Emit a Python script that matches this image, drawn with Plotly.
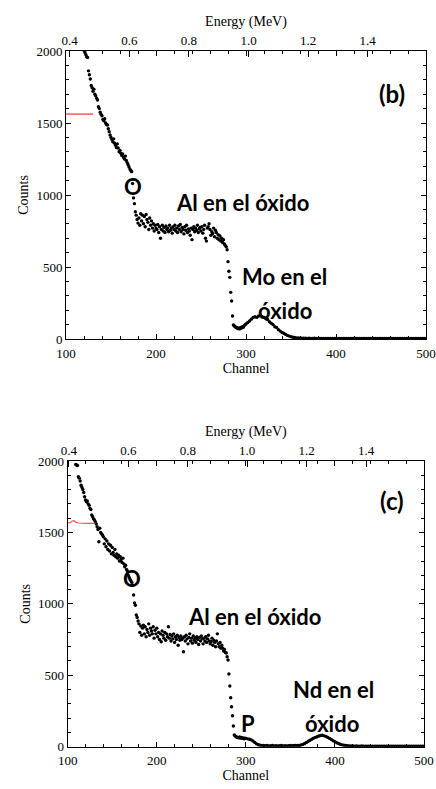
import plotly.graph_objects as go

# ---------------- data: panel (b) ----------------
ch_b = list(range(120, 300)) + list(range(300, 501, 2))
counts_b = [
    2005, 1990, 1975, 1960, 1955, 1862, 1835, 1806, 1760, 1745,          # 120-129
    1720, 1735, 1700, 1690, 1672, 1660, 1613, 1600, 1575, 1560,          # 130-139
    1550, 1525, 1515, 1530, 1500, 1490, 1486, 1460, 1440, 1417,          # 140-149
    1400, 1385, 1370, 1390, 1360, 1345, 1330, 1355, 1326, 1300,          # 150-159
    1310, 1290, 1275, 1285, 1260, 1250, 1270, 1240, 1225, 1210,          # 160-169
    1195, 1180, 1170, 1162, 1080, 980, 940, 884, 860, 830,               # 170-179
    805, 840, 790, 870, 820, 860, 800, 850, 780, 865,                    # 180-189
    830, 810, 760, 840, 790, 820, 770, 800, 750, 790,                    # 190-199
    770, 760, 795, 740, 780, 700, 760, 790, 750, 775,                    # 200-209
    740, 785, 760, 770, 745, 790, 755, 770, 735, 780,                    # 210-219
    760, 790, 750, 770, 740, 785, 760, 795, 745, 775,                    # 220-229
    760, 730, 780, 755, 790, 740, 765, 750, 720, 770,                    # 230-239
    690, 760, 780, 745, 770, 755, 790, 740, 765, 775,                    # 240-249
    750, 780, 735, 760, 790, 700, 680, 770, 780, 800,                    # 250-259
    760, 720, 745, 733, 770, 710, 755, 740, 700, 725,                    # 260-269
    690, 715, 680, 700, 670, 690, 660, 650, 641, 620,                    # 270-279
    537, 470, 428, 324, 264, 160, 97, 90, 85, 80,                        # 280-289
    78, 72, 75, 70, 80, 76, 85, 82, 92, 100,                             # 290-299
    105, 115, 125, 138, 150, 155, 150, 160, 165, 155,                    # 300-318
    150, 140, 135, 120, 110, 100, 85, 80, 65, 55,                        # 320-338
    45, 40, 32, 25, 20, 16, 12, 10, 8, 7,                                # 340-358
    6, 5, 6, 5, 4, 5, 4, 4, 5, 4,                                        # 360-378
    4, 3, 4, 4, 3, 4, 3, 3, 4, 3,                                        # 380-398
    3, 4, 3, 3, 3, 4, 3, 3, 3, 3,                                        # 400-418
    3, 3, 4, 3, 3, 3, 3, 3, 3, 3,                                        # 420-438
    3, 3, 3, 3, 3, 3, 3, 3, 3, 3,                                        # 440-458
    3, 3, 3, 3, 3, 3, 3, 3, 3, 3,                                        # 460-478
    3, 3, 3, 3, 3, 3, 3, 3, 3, 3,                                        # 480-498
    3,                                                                   # 500
]

# ---------------- data: panel (c) ----------------
ch_c = list(range(108, 300)) + list(range(300, 501, 2))
counts_c = [
    2030, 1975, 1972, 1968, 1890, 1880, 1860, 1830, 1815, 1800,          # 108-117
    1780, 1750, 1727, 1715, 1720, 1700, 1690, 1670, 1660, 1622,          # 118-127
    1610, 1595, 1587, 1575, 1560, 1540, 1520, 1435, 1530, 1500,          # 128-137
    1490, 1482, 1470, 1420, 1455, 1400, 1440, 1380, 1420, 1370,          # 138-147
    1410, 1350, 1395, 1360, 1340, 1380, 1330, 1350, 1320, 1340,          # 148-157
    1300, 1330, 1310, 1290, 1320, 1280, 1260, 1270, 1240, 1230,          # 158-167
    1200, 1185, 1170, 1160, 1150, 1130, 1062, 1006, 990, 922,            # 168-177
    905, 880,                                                            # 178-179
    860, 800, 845, 780, 830, 850, 790, 840, 770, 820,                    # 180-189
    800, 860, 780, 830, 810, 790, 840, 760, 815, 790,                    # 190-199
    830, 770, 800, 750, 790, 735, 810, 780, 760, 800,                    # 200-209
    745, 790, 770, 840, 760, 785, 740, 775, 755, 790,                    # 210-219
    730, 770, 750, 780, 710, 765, 745, 775, 750, 760,                    # 220-229
    665, 770, 740, 780, 755, 720, 765, 790, 740, 760,                    # 230-239
    725, 775, 745, 760, 730, 770, 750, 715, 765, 740,                    # 240-249
    775, 755, 720, 760, 740, 770, 730, 755, 780, 740,                    # 250-259
    720, 735, 760, 710, 745, 730, 700, 740, 790, 720,                    # 260-269
    700, 730, 690, 710, 690, 670, 680, 660, 656, 630,                    # 270-279
    607, 509, 425, 343, 280, 217, 145, 82, 75, 70,                       # 280-289
    66, 64, 62, 68, 60, 65, 58, 62, 55, 60,                              # 290-299
    58, 55, 52, 48, 40, 30, 20, 14, 10, 9,                               # 300-318
    8, 7, 8, 6, 7, 8, 6, 7, 6, 7,                                        # 320-338
    8, 6, 7, 6, 7, 8, 7, 8, 9, 8,                                        # 340-358
    9, 12, 16, 22, 30, 38, 45, 52, 60, 65,                               # 360-378
    70, 75, 78, 80, 76, 72, 65, 58, 50, 42,                              # 380-398
    35, 28, 22, 17, 13, 10, 8, 7, 6, 5,                                  # 400-418
    5, 4, 5, 4, 4, 5, 4, 4, 4, 4,                                        # 420-438
    4, 4, 3, 4, 4, 3, 4, 3, 3, 4,                                        # 440-458
    3, 3, 3, 4, 3, 3, 3, 3, 3, 3,                                        # 460-478
    3, 3, 3, 3, 3, 3, 3, 3, 3, 3,                                        # 480-498
    3,                                                                   # 500
]

# red reference segments
red_ch_b = [100, 130]
red_counts_b = [1562, 1562]
red_ch_c = [100, 103, 105, 107, 109, 112, 120, 131]
red_counts_c = [1566, 1568, 1580, 1582, 1572, 1566, 1564, 1564]

energy_ticks = [0.4, 0.6, 0.8, 1.0, 1.2, 1.4]
energy_labels = ["0.4", "0.6", "0.8", "1.0", "1.2", "1.4"]
energy_range_b = [0.3876, 1.5956]
energy_range_c = [0.396, 1.595]

labels_b = [("(b)", 462, 1708, 24), ("O", 174, 1060, 22), ("Al en el óxido", 296, 951, 22),
            ("Mo en el", 343, 431, 22), ("óxido", 343, 201, 22)]
labels_c = [("(c)", 464, 1720, 24), ("O", 172, 1174, 22), ("Al en el óxido", 310, 908, 22),
            ("Nd en el", 398, 397, 22), ("óxido", 397, 159, 22), ("P", 302, 159, 22)]

W, H = 436, 789
serif = "Liberation Serif"
sans = "Lato"

fig = go.Figure()

# panel b
fig.add_trace(go.Scatter(x=ch_b, y=counts_b, mode="markers", xaxis="x", yaxis="y",
                         marker=dict(color="black", size=3.4), showlegend=False, cliponaxis=True))
fig.add_trace(go.Scatter(x=red_ch_b, y=red_counts_b, mode="lines", xaxis="x", yaxis="y",
                         line=dict(color="#ff0000", width=1), showlegend=False))
# panel c
fig.add_trace(go.Scatter(x=ch_c, y=counts_c, mode="markers", xaxis="x3", yaxis="y2",
                         marker=dict(color="black", size=3.4), showlegend=False, cliponaxis=True))
fig.add_trace(go.Scatter(x=red_ch_c, y=red_counts_c, mode="lines", xaxis="x3", yaxis="y2",
                         line=dict(color="#f05a5a", width=1.2), showlegend=False))
# invisible traces to activate the top energy axes
fig.add_trace(go.Scatter(x=energy_range_b, y=[None, None], xaxis="x2", yaxis="y",
                         mode="markers", showlegend=False, hoverinfo="skip"))
fig.add_trace(go.Scatter(x=energy_range_c, y=[None, None], xaxis="x4", yaxis="y2",
                         mode="markers", showlegend=False, hoverinfo="skip"))

tickfont = dict(family=serif, size=13, color="black")
titlefont = dict(family=serif, size=14, color="black")


def chan_axis(domain, anchor):
    return dict(domain=domain, anchor=anchor, range=[100, 500], dtick=100, tick0=100,
                ticks="inside", ticklen=5, tickcolor="black", showline=True, linecolor="black",
                linewidth=1, mirror="ticks", showgrid=False, zeroline=False, tickfont=tickfont,
                automargin=False, ticklabelstandoff=2,
                title=dict(text="Channel", font=titlefont, standoff=2),
                minor=dict(dtick=20, tick0=100, ticks="inside", ticklen=3, tickcolor="black", showgrid=False))


def energy_axis(overlay, anchor, rng):
    return dict(overlaying=overlay, anchor=anchor, side="top", range=rng, tickvals=energy_ticks,
                ticktext=energy_labels, automargin=False,
                ticks="inside", ticklen=6, tickcolor="black", showline=True, linecolor="black",
                showgrid=False, zeroline=False, tickfont=tickfont,
                title=dict(text="Energy (MeV)", font=titlefont, standoff=2))


def count_axis(domain, anchor):
    return dict(domain=domain, anchor=anchor, range=[0, 2000], dtick=500,
                ticks="inside", ticklen=5, tickcolor="black", showline=True, linecolor="black",
                linewidth=1, mirror="ticks", showgrid=False, zeroline=False, tickfont=tickfont,
                automargin=False,
                title=dict(text="Counts", font=titlefont, standoff=4),
                minor=dict(dtick=100, ticks="inside", ticklen=3, tickcolor="black", showgrid=False))


fig.update_layout(
    width=W, height=H, margin=dict(l=0, r=0, t=0, b=0, autoexpand=False),
    paper_bgcolor="white", plot_bgcolor="white",
    xaxis=chan_axis([66 / W, 426 / W], "y"),
    xaxis2=energy_axis("x", "y", energy_range_b),
    yaxis=count_axis([1 - 339 / H, 1 - 51 / H], "x"),
    xaxis3=chan_axis([67.7 / W, 424 / W], "y2"),
    xaxis4=energy_axis("x3", "y2", energy_range_c),
    yaxis2=count_axis([1 - 746.7 / H, 1 - 461 / H], "x3"),
)

annotations = []
for text, x, y, size in labels_b:
    annotations.append(dict(text=f"<b>{text}</b>", x=x, y=y, xref="x", yref="y", showarrow=False,
                            font=dict(family=sans, size=size, color="black")))
for text, x, y, size in labels_c:
    annotations.append(dict(text=f"<b>{text}</b>", x=x, y=y, xref="x3", yref="y2", showarrow=False,
                            font=dict(family=sans, size=size, color="black")))
fig.update_layout(annotations=annotations)

fig.write_html(
    "out.html",
    config={"displayModeBar": False},
    post_script="document.body.style.margin='0';document.body.style.padding='0';"
                "document.documentElement.style.overflow='hidden';",
)
